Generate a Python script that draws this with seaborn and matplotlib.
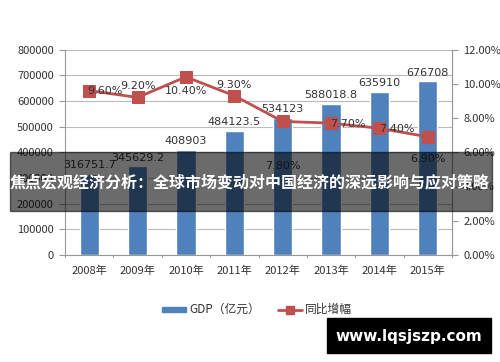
import matplotlib
matplotlib.use("Agg")
import matplotlib.pyplot as plt
import seaborn as sns
import pandas as pd
from matplotlib.patches import Rectangle
from matplotlib.lines import Line2D

years = ["2008年", "2009年", "2010年", "2011年", "2012年", "2013年", "2014年", "2015年"]
gdp = [316751.7, 345629.2, 408903, 484123.5, 534123, 588018.8, 635910, 676708]
gdp_labels = ["316751.7", "345629.2", "408903", "484123.5", "534123", "588018.8", "635910", "676708"]
growth = [9.6, 9.2, 10.4, 9.3, 7.8, 7.7, 7.4, 6.9]
growth_labels = ["9.60%", "9.20%", "10.40%", "9.30%", "7.80%", "7.70%", "7.40%", "6.90%"]
title = "焦点宏观经济分析：全球市场变动对中国经济的深远影响与应对策略"
watermark = "www.lqsjszp.com"

sns.set_theme(style="white")
plt.rcParams['font.family'] = ['Noto Sans CJK SC', 'DejaVu Sans']

df = pd.DataFrame({"year": years, "gdp": gdp, "growth": growth})

W, H = 500, 362
fig = plt.figure(figsize=(5, 3.62), dpi=100)
ax = fig.add_axes([65 / W, 1 - 255 / H, (452 - 65) / W, (255 - 49.5) / H])

blue = "#4F81BD"
red = "#C0504D"
txt = "#333333"

sns.barplot(data=df, x="year", y="gdp", color=blue, width=0.4, ax=ax, saturation=1)
ax.set_ylim(0, 800000)
ax.set_yticks(range(0, 800001, 100000))
ax.set_yticklabels([str(v) for v in range(0, 800001, 100000)], fontsize=8, color=txt)
ax.set_xlabel("")
ax.set_ylabel("")
ax.set_xlim(-0.5, 7.5)
ax.tick_params(axis="x", labelsize=8, colors=txt, pad=8, length=0)
ax.tick_params(axis="y", length=4, color="#999999", width=0.8, pad=4, left=True)
ax.yaxis.grid(True, color="#BBBBBB", linewidth=0.8)
ax.set_axisbelow(True)
ax.spines["top"].set_visible(False)
for s in ["left", "bottom", "right"]:
    ax.spines[s].set_color("#999999")
    ax.spines[s].set_linewidth(0.8)
for i in range(9):
    ax.plot([i - 0.5, i - 0.5], [0, -9000], color="#999999", lw=0.8, clip_on=False)

for i, (v, lab) in enumerate(zip(gdp, gdp_labels)):
    ax.text(i, v + 14000, lab, ha="center", va="bottom", fontsize=8, color=txt,
            family=['DejaVu Sans'])

ax2 = ax.twinx()
sns.lineplot(x=list(range(len(years))), y=growth, ax=ax2, color=red, linewidth=2,
             marker="s", markersize=8, markeredgecolor=red, legend=False)
ax2.set_ylim(0, 12)
ax2.set_yticks(range(0, 13, 2))
ax2.set_yticklabels([f"{v:.2f}%" for v in range(0, 13, 2)], fontsize=8, color=txt)
ax2.tick_params(axis="y", length=4, color="#999999", width=0.8, pad=4, right=True)
ax2.set_ylabel("")
for s in ["top", "left", "bottom"]:
    ax2.spines[s].set_visible(False)
ax2.spines["right"].set_color("#999999")
ax2.spines["right"].set_linewidth(0.8)

offs = [(0.32, -0.05), (0.0, 0.65), (0.0, -0.85), (0.0, 0.65),
        (0.0, -2.6), (0.35, -0.05), (0.35, -0.05), (0.0, -1.3)]
for i, (g, lab) in enumerate(zip(growth, growth_labels)):
    dx, dy = offs[i]
    ax2.text(i + dx, g + dy, lab, ha="center", va="center", fontsize=8, color=txt,
             family=['DejaVu Sans'])

# legend
fig.patches.append(Rectangle((162 / W, 1 - 312 / H), 24 / W, 5 / H, transform=fig.transFigure,
                             color=blue))
fig.text(189 / W, 1 - 309.5 / H, "GDP（亿元）", fontsize=8.5, color=txt, va="center")
fig.lines.append(Line2D([278 / W, 302 / W], [1 - 309.5 / H, 1 - 309.5 / H],
                        transform=fig.transFigure, color=red, lw=2))
fig.lines.append(Line2D([290 / W], [1 - 309.5 / H], transform=fig.transFigure, color=red,
                        marker="s", markersize=6))
fig.text(305 / W, 1 - 309.5 / H, "同比增幅", fontsize=8.5, color=txt, va="center")

# banner overlay
fig.patches.append(Rectangle((10 / W, 1 - 211 / H), 482 / W, 59 / H, transform=fig.transFigure,
                             color="black", alpha=0.58, zorder=10))
fig.text(250 / W, 1 - 182 / H, title, fontsize=11.5, color="white", weight="bold",
         ha="center", va="center", zorder=11)

# watermark
fig.patches.append(Rectangle((327 / W, 1 - 353 / H), 164 / W, 35 / H, transform=fig.transFigure,
                             color="black", zorder=10))
fig.text(409 / W, 1 - 336 / H, watermark, fontsize=11, color="white", weight="bold",
         ha="center", va="center", zorder=11, family=['DejaVu Sans'])

fig.savefig("out.png", dpi=100)
